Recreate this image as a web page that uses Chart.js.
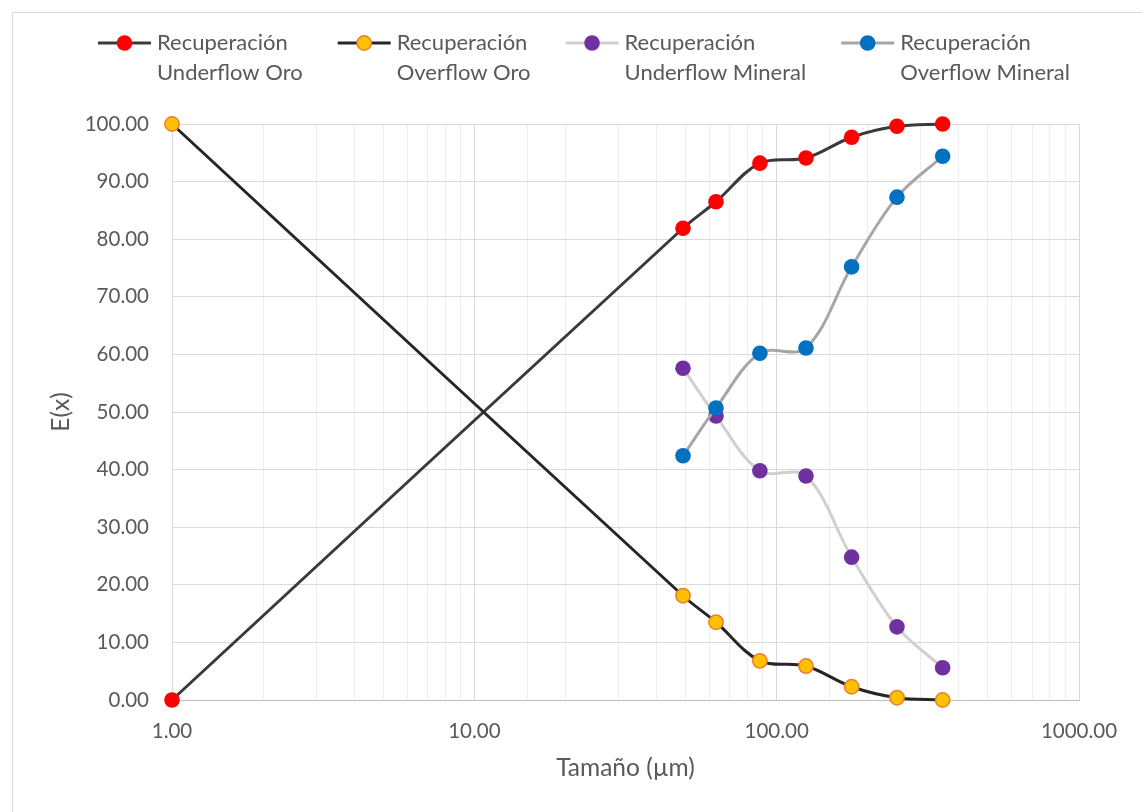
<!DOCTYPE html>
<html>
<head>
<meta charset="utf-8">
<script src="https://cdn.jsdelivr.net/npm/chart.js@4/dist/chart.umd.min.js"></script>
<style>
  html, body { margin: 0; padding: 0; background: #fff; }
  #wrap { width: 1142px; height: 812px; }
</style>
</head>
<body>
<div id="wrap"><canvas id="chart" width="1142" height="812"></canvas></div>
<script>
// tamaños de partícula (µm) y curvas de recuperación (%)
const sizesOro = [1, 49, 63, 88, 125, 177, 250, 354];
const underflowOro = [0, 81.9, 86.5, 93.2, 94.1, 97.7, 99.6, 100];
const overflowOro = [100, 18.1, 13.5, 6.8, 5.9, 2.3, 0.4, 0];

const sizesMineral = [49, 63, 88, 125, 177, 250, 354];
const underflowMineral = [57.6, 49.3, 39.8, 38.9, 24.8, 12.7, 5.6];
const overflowMineral = [42.4, 50.7, 60.2, 61.1, 75.2, 87.3, 94.4];

const seriesNames = [
    ['Recuperación', 'Underflow Oro'],
    ['Recuperación', 'Overflow Oro'],
    ['Recuperación', 'Underflow Mineral'],
    ['Recuperación', 'Overflow Mineral']
];

const xLabels = [1, 10, 100, 1000];
const yMin = 0, yMax = 100, yStep = 10;

const FONT = 'Lato';
const TEXT_SIZE = 22;
const TITLE_SIZE = 24.5;
const TICK_SIZE = 20.5;
const TEXT_COLOR = '#595959';

const toPoints = (xs, ys) => xs.map((x, i) => ({ x: x, y: ys[i] }));

// marco del área del gráfico
const frame = {
    id: 'frame',
    beforeDraw(chart) {
        const ctx = chart.ctx;
        ctx.save();
        ctx.fillStyle = '#fff';
        ctx.fillRect(0, 0, chart.width, chart.height);
        ctx.strokeStyle = '#d9d9d9';
        ctx.lineWidth = 1;
        ctx.beginPath();
        ctx.moveTo(12.5, chart.height);
        ctx.lineTo(12.5, 12.5);
        ctx.lineTo(chart.width, 12.5);
        ctx.stroke();
        ctx.restore();
    }
};

// leyenda en dos líneas, centrada
const twoLineLegend = {
    id: 'twoLineLegend',
    afterDraw(chart) {
        const ctx = chart.ctx;
        const sampleW = 53, textGap = 6, itemGap = 35;
        const centerX = 584, line1 = 43, line2 = 73;
        ctx.save();
        ctx.font = TEXT_SIZE + 'px ' + FONT;
        const widths = seriesNames.map(n => Math.max(...n.map(t => ctx.measureText(t).width)));
        const total = widths.reduce((s, w) => s + sampleW + textGap + w, 0) + itemGap * (widths.length - 1);
        let x = centerX - total / 2;
        chart.data.datasets.forEach((ds, i) => {
            ctx.strokeStyle = ds.borderColor;
            ctx.lineWidth = ds.borderWidth;
            ctx.beginPath();
            ctx.moveTo(x, line1);
            ctx.lineTo(x + sampleW, line1);
            ctx.stroke();
            ctx.beginPath();
            ctx.arc(x + sampleW / 2, line1, ds.pointRadius, 0, Math.PI * 2);
            ctx.fillStyle = ds.pointBackgroundColor;
            ctx.fill();
            if (ds.pointBorderWidth) {
                ctx.strokeStyle = ds.pointBorderColor;
                ctx.lineWidth = ds.pointBorderWidth;
                ctx.stroke();
            }
            ctx.fillStyle = TEXT_COLOR;
            ctx.textAlign = 'left';
            ctx.textBaseline = 'middle';
            ctx.fillText(seriesNames[i][0], x + sampleW + textGap, line1);
            ctx.fillText(seriesNames[i][1], x + sampleW + textGap, line2);
            x += sampleW + textGap + widths[i] + itemGap;
        });
        ctx.restore();
    }
};

const isDecade = v => {
    const l = Math.log10(v);
    return Math.abs(l - Math.round(l)) < 1e-9;
};

const baseSet = {
    borderWidth: 3,
    pointRadius: 7.8,
    pointBorderWidth: 0,
    tension: 0.35,
    clip: false
};

new Chart(document.getElementById('chart'), {
    type: 'line',
    data: {
        datasets: [
            Object.assign({}, baseSet, {
                label: seriesNames[0].join(' '),
                data: toPoints(sizesOro, underflowOro),
                borderColor: '#3a3a3a',
                pointBackgroundColor: '#ff0000',
                pointBorderColor: '#ff0000',
                order: 3
            }),
            Object.assign({}, baseSet, {
                label: seriesNames[1].join(' '),
                data: toPoints(sizesOro, overflowOro),
                borderColor: '#262626',
                pointBackgroundColor: '#ffc000',
                pointBorderColor: '#ed7d31',
                pointBorderWidth: 1.5,
                pointRadius: 7.2,
                order: 2
            }),
            Object.assign({}, baseSet, {
                label: seriesNames[2].join(' '),
                data: toPoints(sizesMineral, underflowMineral),
                borderColor: '#d0d0d0',
                pointBackgroundColor: '#7030a0',
                pointBorderColor: '#7030a0',
                order: 1
            }),
            Object.assign({}, baseSet, {
                label: seriesNames[3].join(' '),
                data: toPoints(sizesMineral, overflowMineral),
                borderColor: '#a6a6a6',
                pointBackgroundColor: '#0070c0',
                pointBorderColor: '#0070c0',
                order: 0
            })
        ]
    },
    options: {
        responsive: false,
        animation: false,
        events: [],
        layout: { padding: { left: 0, top: 124, right: 63, bottom: 0 } },
        plugins: {
            legend: { display: false },
            tooltip: { enabled: false }
        },
        scales: {
            x: {
                type: 'logarithmic',
                min: xLabels[0],
                max: xLabels[xLabels.length - 1],
                afterFit: scale => { scale.height = 112; },
                border: { color: '#bfbfbf', width: 1 },
                grid: {
                    drawTicks: false,
                    color: ctx => isDecade(ctx.tick.value) ? '#d9d9d9' : '#eeeeee',
                    lineWidth: 1
                },
                ticks: {
                    autoSkip: false,
                    maxRotation: 0,
                    padding: 19,
                    color: TEXT_COLOR,
                    font: { family: FONT, size: TICK_SIZE },
                    callback: value => xLabels.includes(value) || isDecade(value) ? Number(value).toFixed(2) : ''
                },
                title: {
                    display: true,
                    text: 'Tamaño (µm)',
                    color: TEXT_COLOR,
                    font: { family: FONT, size: TITLE_SIZE },
                    padding: { top: 0, bottom: 29 }
                }
            },
            y: {
                min: yMin,
                max: yMax,
                afterFit: scale => { scale.width = 172; },
                border: { color: '#d9d9d9', width: 1 },
                grid: { drawTicks: false, color: '#d9d9d9', lineWidth: 1 },
                ticks: {
                    stepSize: yStep,
                    padding: 23,
                    color: TEXT_COLOR,
                    font: { family: FONT, size: TICK_SIZE },
                    callback: value => Number(value).toFixed(2)
                },
                title: {
                    display: true,
                    text: 'E(x)',
                    color: TEXT_COLOR,
                    font: { family: FONT, size: TITLE_SIZE },
                    padding: { top: 46, bottom: 0 }
                }
            }
        }
    },
    plugins: [frame, twoLineLegend]
});
</script>
</body>
</html>
